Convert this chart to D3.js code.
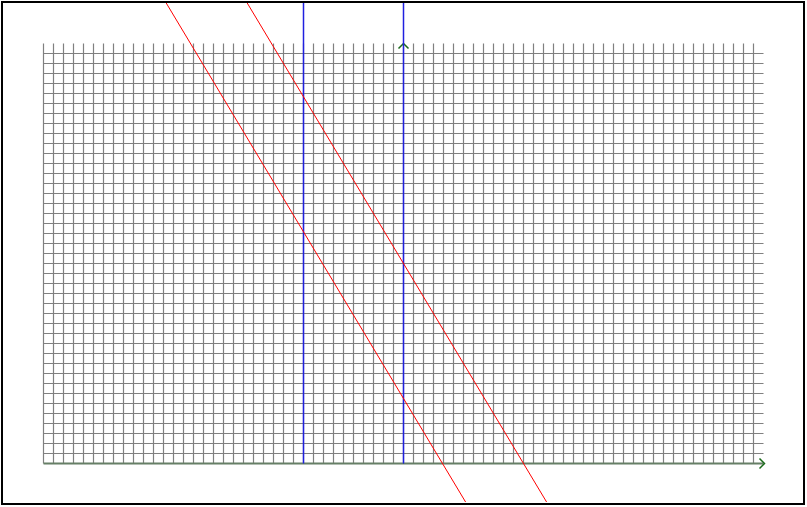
<!DOCTYPE html>
<html>
<head>
<meta charset="utf-8">
<script src="https://cdn.jsdelivr.net/npm/d3@7"></script>
<style>
  html, body { margin: 0; padding: 0; background: #fff; }
  svg { display: block; }
</style>
</head>
<body>
<svg id="chart" width="807" height="507"></svg>
<script>
// Data (grid units)
const xDomain = [-36, 36];
const yDomain = [0, 42];
const verticalGridX = d3.range(-36, 36);      // -36 .. 35
const horizontalGridY = d3.range(1, 42);      // 1 .. 41
const blueLinesX = [-10, 0];
const redLine1 = [[-24.9, 48], [6.9, -5]];
const redLine2 = [[-16.8, 48], [15.0, -5]];
const redLines = [redLine1, redLine2];

const svg = d3.select("#chart");
const x = d3.scaleLinear().domain(xDomain).range([43.5, 763.5]);
const y = d3.scaleLinear().domain(yDomain).range([463.5, 43.5]);

svg.append("defs").append("clipPath").attr("id", "inner")
  .append("rect").attr("x", 3).attr("y", 3).attr("width", 800).attr("height", 499);

// grid
const grid = svg.append("g").attr("stroke", "#808080").attr("stroke-width", 1.2);
grid.selectAll("line.v").data(verticalGridX).join("line").attr("class", "v")
  .attr("x1", d => x(d)).attr("x2", d => x(d))
  .attr("y1", y(0)).attr("y2", y(42));
grid.selectAll("line.h").data(horizontalGridY).join("line").attr("class", "h")
  .attr("x1", x(-36)).attr("x2", x(36))
  .attr("y1", d => y(d)).attr("y2", d => y(d));

// axes
svg.append("line").attr("x1", x(-36)).attr("x2", x(36)).attr("y1", y(0)).attr("y2", y(0))
  .attr("stroke", "#667f66").attr("stroke-width", 2);
svg.append("line").attr("x1", x(0)).attr("x2", x(0)).attr("y1", y(0)).attr("y2", y(42))
  .attr("stroke", "#2f6a2f").attr("stroke-width", 1);
// arrow heads
svg.append("path")
  .attr("d", `M${x(36) - 4},${y(0) - 5} L${x(36) + 1},${y(0)} L${x(36) - 4},${y(0) + 5}`)
  .attr("fill", "none").attr("stroke", "#1a6a1a").attr("stroke-width", 1.5);
svg.append("path")
  .attr("d", `M${x(0) - 5},${y(42) + 5} L${x(0)},${y(42)} L${x(0) + 5},${y(42) + 5}`)
  .attr("fill", "none").attr("stroke", "#1a6a1a").attr("stroke-width", 1.5);

const content = svg.append("g").attr("clip-path", "url(#inner)");
// blue verticals
content.selectAll("line.blue").data(blueLinesX).join("line").attr("class", "blue")
  .attr("x1", d => x(d)).attr("x2", d => x(d))
  .attr("y1", y(0)).attr("y2", y(50))
  .attr("stroke", "#2020e0").attr("stroke-width", 1.5);

// red lines
const lineGen = d3.line().x(d => x(d[0])).y(d => y(d[1]));
content.selectAll("path.red").data(redLines).join("path").attr("class", "red")
  .attr("d", lineGen).attr("fill", "none").attr("stroke", "#ff0000").attr("stroke-width", 1);

// border
svg.append("rect").attr("x", 2).attr("y", 2).attr("width", 802).attr("height", 502)
  .attr("fill", "none").attr("stroke", "#000").attr("stroke-width", 2);
</script>
</body>
</html>
